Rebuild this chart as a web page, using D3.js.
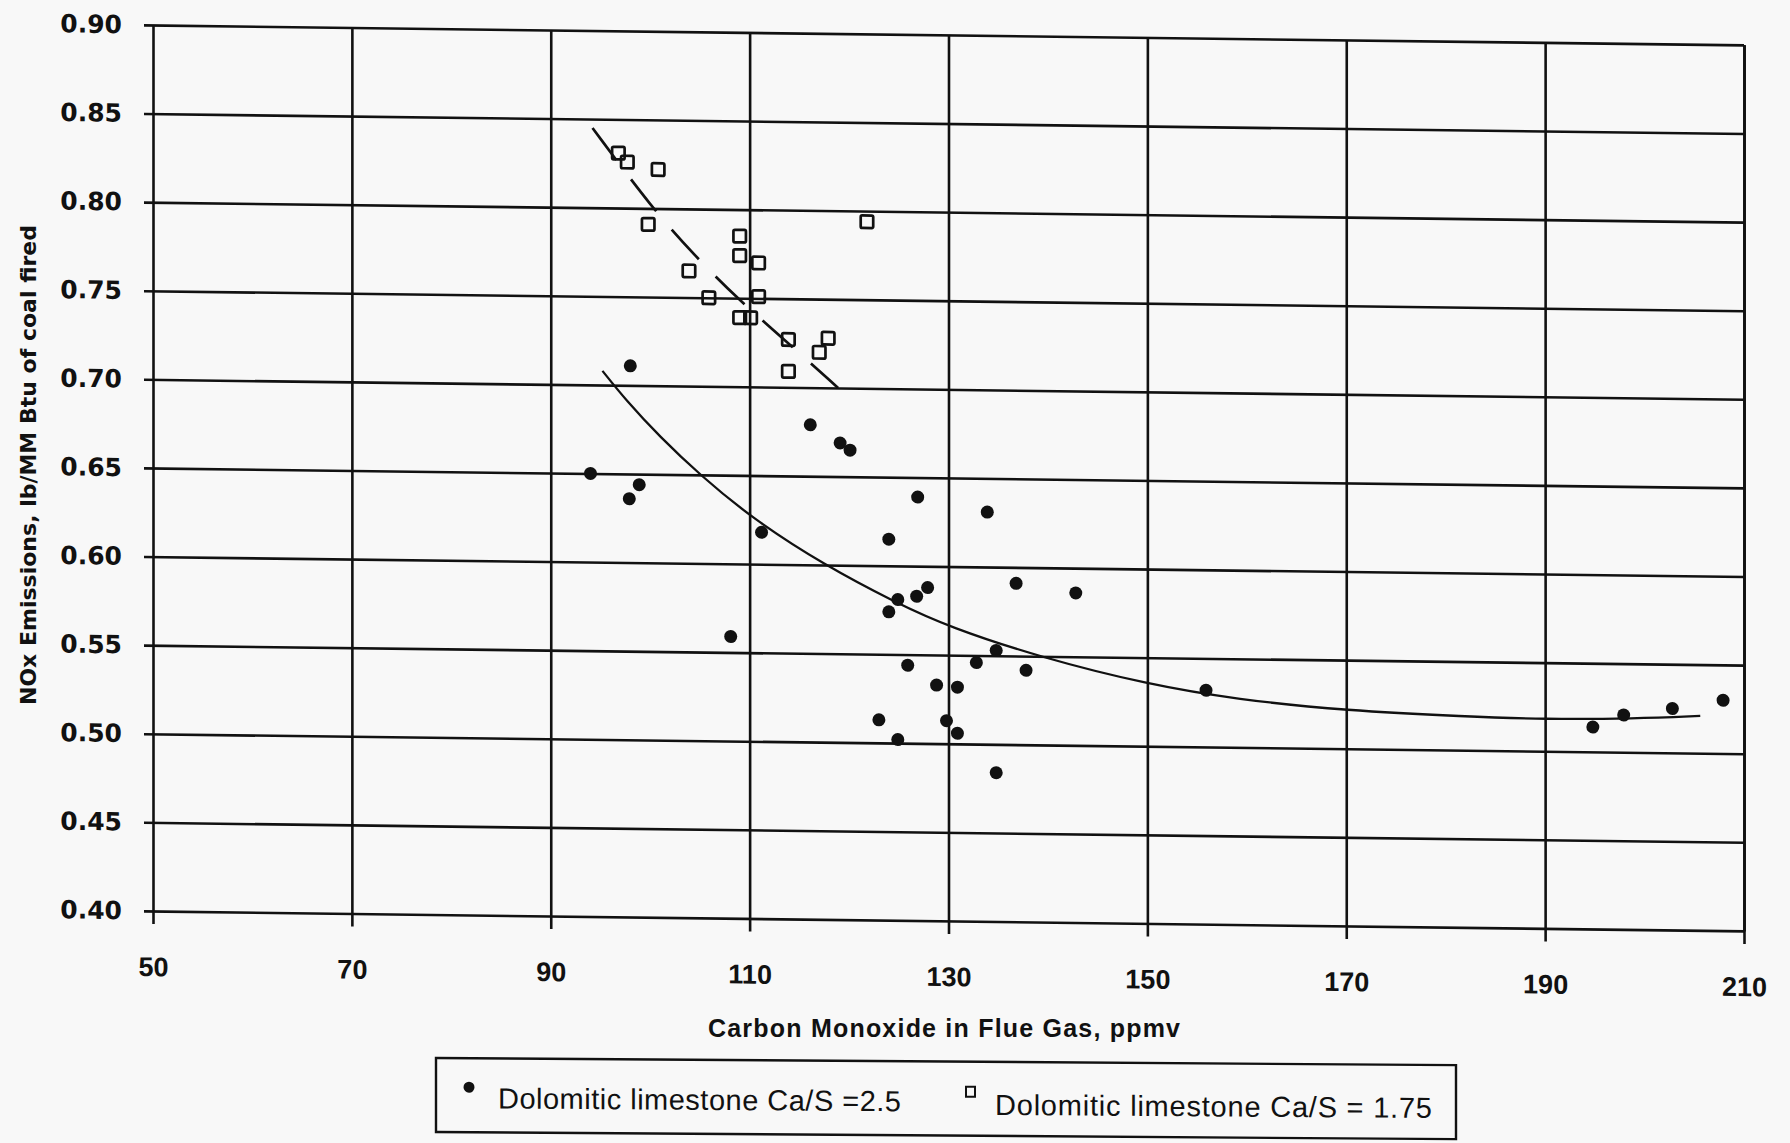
<!DOCTYPE html>
<html>
<head>
<meta charset="utf-8">
<script src="https://cdn.jsdelivr.net/npm/d3@7"></script>
<style>
html,body{margin:0;padding:0;background:#f8f8f8;}
svg{display:block;}
</style>
</head>
<body>
<svg id="chart" width="1790" height="1143"></svg>
<script>
// ---- data ----
const xTicks = [50, 70, 90, 110, 130, 150, 170, 190, 210];
const yTicks = [0.40, 0.45, 0.50, 0.55, 0.60, 0.65, 0.70, 0.75, 0.80, 0.85, 0.90];
const xTitle = "Carbon Monoxide in Flue Gas, ppmv";
const yTitle = "NOx Emissions, lb/MM Btu of coal fired";
const seriesNames = ["Dolomitic limestone Ca/S =2.5", "Dolomitic limestone Ca/S = 1.75"];

// Ca/S = 2.5 (filled circles): [CO ppmv, NOx]
const caS25 = [
  [98.0,0.711],[94.0,0.650],[98.9,0.644],[97.9,0.636],[116.1,0.679],[119.1,0.669],
  [120.1,0.665],[126.9,0.639],[133.9,0.631],[111.2,0.618],[124.0,0.615],[136.8,0.591],
  [142.8,0.586],[127.9,0.588],[126.8,0.583],[124.9,0.581],[124.0,0.574],[108.1,0.559],
  [134.8,0.553],[132.8,0.546],[137.8,0.542],[125.9,0.544],[128.8,0.533],[130.9,0.532],
  [123.0,0.513],[129.8,0.513],[130.9,0.506],[124.9,0.502],[134.8,0.484],[155.9,0.532],
  [194.8,0.514],[197.9,0.521],[202.8,0.525],[207.9,0.530]
];
// Ca/S = 1.75 (open squares)
const caS175 = [
  [96.8,0.831],[97.7,0.826],[100.8,0.822],[99.8,0.791],[109.0,0.785],[109.0,0.774],
  [110.9,0.770],[103.9,0.765],[105.9,0.750],[110.9,0.751],[109.0,0.739],[110.1,0.739],
  [113.9,0.727],[117.9,0.728],[117.0,0.720],[113.9,0.709],[121.8,0.794]
];
// fitted curves
const fit25 = [
  [95.2,0.708],[97.5,0.692],[101,0.671],[105,0.650],[110.2,0.626],[117.5,0.600],
  [124.8,0.579],[130,0.566],[139.5,0.549],[150,0.535],[159,0.527],[170,0.5215],
  [182,0.519],[190,0.518],[199,0.519],[205.6,0.521]
];
const fit175 = [[94.2,0.845],[100.2,0.800],[104.6,0.773],[108.7,0.750],[114.3,0.723],[118.9,0.700]];

// ---- layout ----
const W = 1790, H = 1143;
const ink = "#111";
const svg = d3.select("#chart");
svg.append("rect").attr("width", W).attr("height", H).attr("fill", "#f8f8f8");

const x = d3.scaleLinear().domain([50, 210]).range([153, 1744]);
const y = d3.scaleLinear().domain([0.40, 0.90]).range([911, 25]);

// the scanned page is slightly tilted
const tilt = Math.atan(0.0125) * 180 / Math.PI;
const g = svg.append("g")
  .attr("transform", `translate(153,0) skewY(${tilt}) translate(-153,0)`);

// y axis: gridlines + outer ticks + labels, domain = right border
const yAxis = d3.axisLeft(y)
  .tickValues(yTicks)
  .tickFormat(d3.format(".2f"))
  .tickSizeInner(x(210) - x(50) + 9)
  .tickSizeOuter(0)
  .tickPadding(22);
const gy = g.append("g").attr("transform", `translate(${x(210)},0)`).call(yAxis);
gy.selectAll("line").attr("stroke", ink).attr("stroke-width", 2.6);
gy.select(".domain").attr("stroke", ink).attr("stroke-width", 2.8);
gy.selectAll("text")
  .attr("fill", ink)
  .attr("font-family", "'DejaVu Sans', sans-serif")
  .attr("font-weight", "bold")
  .attr("font-size", 25);

// x axis: vertical gridlines extending slightly below the frame + labels
const xBase = y(0.40) + 13;
const xAxis = d3.axisBottom(x)
  .tickValues(xTicks)
  .tickFormat(d3.format("d"))
  .tickSizeInner(-(xBase - y(0.90)))
  .tickSizeOuter(0)
  .tickPadding(33);
const gx = g.append("g").attr("transform", `translate(0,${xBase})`).call(xAxis);
gx.select(".domain").remove();
gx.selectAll("line").attr("stroke", ink).attr("stroke-width", 2.6);
gx.selectAll("text")
  .attr("fill", ink)
  .attr("font-family", "'Liberation Sans', Arial, sans-serif")
  .attr("font-weight", "bold")
  .attr("font-size", 27);

// fitted curves
const smooth = d3.line().x(d => x(d[0])).y(d => y(d[1])).curve(d3.curveBasis);
g.append("path").datum(fit25).attr("d", smooth)
  .attr("fill", "none").attr("stroke", ink).attr("stroke-width", 2.3);
g.append("path").datum(fit175).attr("d", smooth)
  .attr("fill", "none").attr("stroke", ink).attr("stroke-width", 2.7)
  .attr("stroke-dasharray", "40,24");

// points
g.append("g").selectAll("circle").data(caS25).join("circle")
  .attr("cx", d => x(d[0])).attr("cy", d => y(d[1])).attr("r", 6.5)
  .attr("fill", ink);
const sq = 12.5;
g.append("g").selectAll("rect").data(caS175).join("rect")
  .attr("x", d => x(d[0]) - sq / 2).attr("y", d => y(d[1]) - sq / 2)
  .attr("width", sq).attr("height", sq).attr("rx", 1.5)
  .attr("fill", "none").attr("stroke", ink).attr("stroke-width", 2.7);

// axis titles
svg.append("text")
  .attr("x", 944).attr("y", 1037)
  .attr("text-anchor", "middle")
  .attr("font-family", "'Liberation Sans', Arial, sans-serif")
  .attr("font-weight", "bold").attr("font-size", 25)
  .attr("textLength", 472).attr("lengthAdjust", "spacing")
  .attr("fill", ink).text(xTitle);

svg.append("text")
  .attr("transform", "translate(36,465) rotate(-90)")
  .attr("text-anchor", "middle")
  .attr("font-family", "'DejaVu Sans', sans-serif")
  .attr("font-weight", "bold").attr("font-size", 22)
  .attr("textLength", 480).attr("lengthAdjust", "spacing")
  .attr("fill", ink).text(yTitle);

// legend
const legTilt = Math.atan(0.007) * 180 / Math.PI;
const lg = svg.append("g")
  .attr("transform", `translate(436,0) skewY(${legTilt}) translate(-436,0)`);
lg.append("rect").attr("x", 436).attr("y", 1058).attr("width", 1020).attr("height", 74)
  .attr("fill", "none").attr("stroke", ink).attr("stroke-width", 2.4);
lg.append("circle").attr("cx", 469).attr("cy", 1087).attr("r", 5.5).attr("fill", ink);
lg.append("text").attr("x", 498).attr("y", 1108)
  .attr("font-family", "'Liberation Sans', Arial, sans-serif").attr("font-size", 29)
  .attr("textLength", 403).attr("lengthAdjust", "spacing")
  .attr("fill", ink).text(seriesNames[0]);
lg.append("rect").attr("x", 966).attr("y", 1083).attr("width", 9).attr("height", 10)
  .attr("fill", "none").attr("stroke", ink).attr("stroke-width", 2);
lg.append("text").attr("x", 995).attr("y", 1111)
  .attr("font-family", "'Liberation Sans', Arial, sans-serif").attr("font-size", 29)
  .attr("textLength", 437).attr("lengthAdjust", "spacing")
  .attr("fill", ink).text(seriesNames[1]);
</script>
</body>
</html>
